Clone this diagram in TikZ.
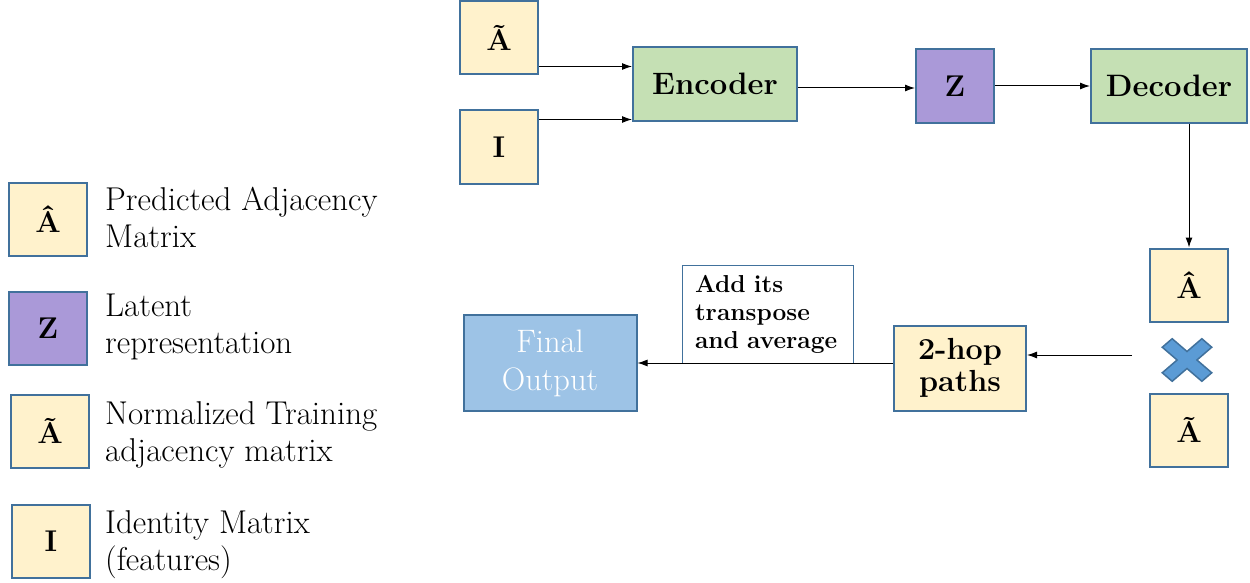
\documentclass[tikz,border=0pt]{standalone}
\usepackage{fontspec}
\usepackage{xcolor}
\usetikzlibrary{positioning, calc, arrows.meta}

\definecolor{matfill}{HTML}{FFF2CC}
\definecolor{edgeblue}{HTML}{41719C}
\definecolor{encfill}{HTML}{C5E0B4}
\definecolor{latfill}{HTML}{AA99D8}
\definecolor{outfill}{HTML}{9DC3E6}
\definecolor{crossfill}{HTML}{5B9BD5}

\tikzset{
  every node/.style={font=\fontsize{30}{38}\selectfont},
  box/.style={draw=edgeblue, line width=2pt, inner sep=0pt, align=center},
  matbox/.style={box, fill=matfill, minimum width=78pt, minimum height=73pt, font=\bfseries\fontsize{30}{38}\selectfont},
  latbox/.style={matbox, fill=latfill},
  codebox/.style={box, fill=encfill, minimum height=74pt, font=\bfseries\fontsize{31}{38}\selectfont},
  legtext/.style={anchor=west, align=left, inner sep=0pt, font=\fontsize{33}{37}\selectfont},
  arr/.style={-{Latex[length=10pt, width=7pt]}, line width=1pt},
}

\begin{document}
\begin{tikzpicture}[x=1pt, y=-1pt]
				  \useasboundingbox (0,0) rectangle (1250,583);
				  % legend
				  \node[matbox] (lghat) at (48,219) {Â};
				  \node[legtext] (lghattxt) at (105,217) {Predicted Adjacency\\Matrix};
				  \node[latbox] (lgz) at (48,328) {Z};
				  \node[legtext] (lgztxt) at (105,327) {Latent\\representation};
				  \node[matbox] (lgtil) at (50,431) {Ã};
				  \node[legtext] (lgtiltxt) at (105,435) {Normalized Training\\adjacency matrix};
				  \node[matbox] (lgid) at (51,541) {I};
				  \node[legtext] (lgidtxt) at (105,545) {Identity Matrix\\(features)};
				  % inputs and auto-encoder
				  \node[matbox] (atil) at (499,38) {Ã};
				  \node[matbox] (ident) at (499,147) {I};
				  \node[codebox, minimum width=164pt] (enc) at (715,84) {Encoder};
				  \node[latbox, minimum height=74pt] (z) at (955,86) {Z};
				  \node[codebox, minimum width=156pt] (dec) at (1169,86) {Decoder};
				  % product of the two matrices
				  \node[matbox] (ahat) at (1189,285) {Â};
				  \node[matbox] (atil2) at (1189,430) {Ã};
				  \fill[crossfill, draw=edgeblue, line width=1.5pt, shift={(1187,360)}, yscale=0.86, rotate=45]
				    (-28,-7) -- (-7,-7) -- (-7,-28) -- (7,-28) -- (7,-7) -- (28,-7) -- (28,7) -- (7,7)
				    -- (7,28) -- (-7,28) -- (-7,7) -- (-28,7) -- cycle;
				  \coordinate (mulin) at (1132,355);
				  \node[matbox, minimum width=132pt, minimum height=85pt, font=\bfseries\fontsize{30.5}{32}\selectfont] (hop) at (960,368) {2-hop\\paths};
				  \node[draw=edgeblue, line width=1pt, fill=white, minimum width=171pt, minimum height=98pt, text width=145pt, align=left, inner xsep=13pt, font=\bfseries\fontsize{24.5}{28}\selectfont] (avg) at (767.5,314) {Add its\\transpose\\and average};
				  \node[box, fill=outfill, text=white, minimum width=173pt, minimum height=96pt, font=\fontsize{32.5}{38}\selectfont] (final) at (550,363) {Final\\Output};
				  % connectors
				  \draw[arr] ([yshift=9]atil.south east) coordinate (a1) -- (a1 -| enc.west);
				  \draw[arr] ([yshift=-10]ident.north east) coordinate (a2) -- (a2 -| enc.west);
				  \draw[arr] ([yshift=-4]enc.east) coordinate (a3) -- (a3 -| z.west);
				  \draw[arr] (z.east) -- (z.east -| dec.west);
				  \draw[arr] (ahat.north |- dec.south) -- (ahat.north);
				  \draw[arr] (mulin) -- (mulin -| hop.east);
				  \draw[arr] (final.east -| hop.west) -- (final.east);
				\end{tikzpicture}
\end{document}
